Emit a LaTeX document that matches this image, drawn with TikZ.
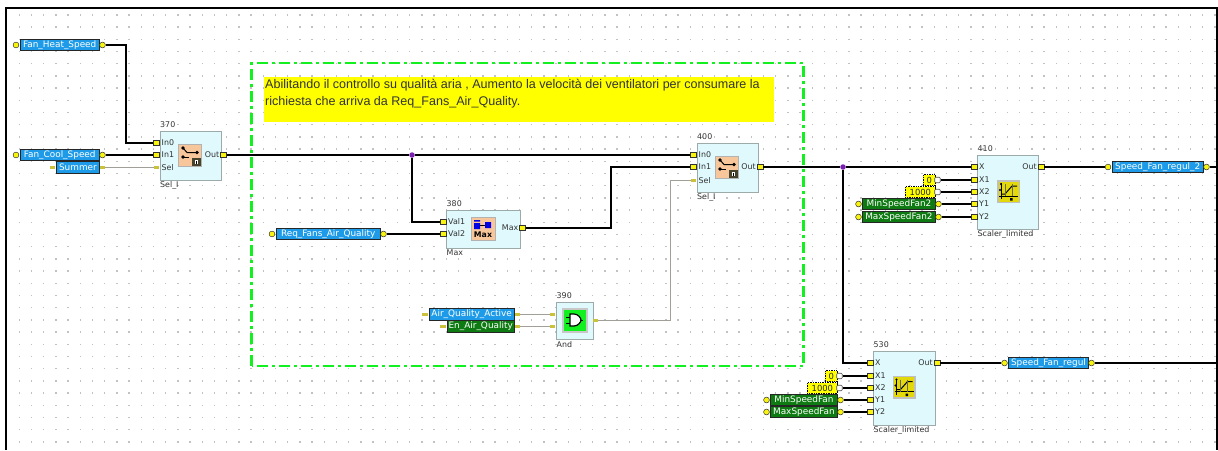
\documentclass[tikz,border=0pt]{standalone}
\usepackage{fontspec}
\setmainfont{DejaVu Sans}
\newfontfamily\notefont{Liberation Sans}
\definecolor{tagblue}{HTML}{1E9BE8}
\definecolor{taggreen}{HTML}{0E7A12}
\definecolor{blockfill}{HTML}{DFF9FD}
\definecolor{blockedge}{HTML}{9DAAAA}
\definecolor{pinyellow}{HTML}{F8F410}
\definecolor{pindim}{HTML}{C9C23A}
\definecolor{wiregray}{HTML}{A0A098}
\definecolor{iconorange}{HTML}{F7C79B}
\definecolor{iconyellow}{HTML}{E3D80A}
\definecolor{junction}{HTML}{7A1FB0}
\definecolor{framegreen}{HTML}{12F020}
\definecolor{noteyellow}{RGB}{255,255,0}
\tikzset{
  sigbox/.style={draw=black!85,line width=.9pt,text=white,inner sep=0pt,minimum height=11.6pt,font=\fontsize{8.9}{9}\selectfont,anchor=west},
  bluebox/.style={sigbox,fill=tagblue},
  greenbox/.style={sigbox,fill=taggreen},
  pincirc/.style={circle,draw=black!80,line width=.5pt,fill=pinyellow,inner sep=0pt,minimum size=5.8pt},
  pindimr/.style={rectangle,draw=none,fill=pindim,inner sep=0pt,minimum width=5.5pt,minimum height=3.4pt},
  pinsq/.style={rectangle,draw=black!80,line width=.5pt,fill=pinyellow,inner sep=0pt,minimum width=5.6pt,minimum height=5pt},
  pinwhite/.style={rectangle,rounded corners=1pt,draw=black!70,line width=.6pt,fill=white,inner sep=0pt,minimum width=5.5pt,minimum height=5.5pt},
  blockbox/.style={rectangle,draw=blockedge,line width=1pt,fill=blockfill,inner sep=0pt,anchor=north west},
  smalltxt/.style={text=black!80,inner sep=0pt,font=\fontsize{7.9}{8}\selectfont},
  wire/.style={draw=black,line width=2pt},
  thinwire/.style={draw=wiregray,line width=1pt},
  constbox/.style={rectangle,densely dotted,draw=black,line width=.7pt,fill=noteyellow,text=black!85,inner sep=0pt,font=\fontsize{8.4}{9}\selectfont,minimum height=11pt,anchor=west},
  dotjoin/.style={circle,fill=junction,draw=none,inner sep=0pt,minimum size=5.5pt},
  zone/.style={draw=framegreen,line width=2.2pt,dash pattern=on 11pt off 4pt on 3pt off 4pt},
  iconedge/.style={draw=black!30,line width=.8pt},
}
% name, box style, pin style, x1, x2, yc, text
\newcommand{\sigtag}[7]{%
  \node[#2,minimum width={(#5-#4)*1pt}] (#1) at (#4,#6) {#7};
  \node[#3] (#1-l) at ({#4-3.5},#6) {};
  \node[#3] (#1-r) at ({#5+3.5},#6) {};
}
% name, x1, x2, y1, y2, number, type
\newcommand{\fblock}[7]{%
  \node[blockbox,minimum width={(#3-#2)*1pt},minimum height={(#5-#4)*1pt}] (#1) at (#2,#4) {};
  \node[smalltxt,anchor=west] (#1-num) at ({#2+.5},{#4-6}) {#6};
  \node[smalltxt,anchor=west] (#1-typ) at ({#2+.5},{#5+5.5}) {#7};
}
% name, pin style, x, y, label
\newcommand{\pinlab}[5]{%
  \node[#2] (#1) at (#3,#4) {};
  \node[smalltxt,anchor=west] (#1-txt) at ({#3+5},#4) {#5};
}
\newcommand{\pinout}[5]{%
  \node[#2] (#1) at (#3,#4) {};
  \node[smalltxt,anchor=east] (#1-txt) at ({#3-4},#4) {#5};
}
% icons: top-left x,y
\newcommand{\switchicon}[2]{%
  \begin{scope}[shift={(#1,#2)}]
    \fill[iconorange] (0,0) rectangle (23.5,22);
    \draw[iconedge] (0,0) rectangle (23.5,22);
    \draw[black,line width=1pt] (5,4) -- (9,8.5) -- (19,8.5);
    \draw[black,line width=1pt] (5,13) -- (11,13);
    \fill[black] (5,4) circle (1.8) (19,8.5) circle (1.8) (5,13) circle (1.8);
    \fill[black!65!olive] (14,14) rectangle (23,22);
    \fill[white] (17,16) rectangle (20,20);
    \fill[black] (18,16.5) rectangle (19,19.5);
  \end{scope}}
\newcommand{\scalericon}[2]{%
  \begin{scope}[shift={(#1,#2)}]
    \fill[black!25] (0,0) rectangle (23,23);
    \fill[iconyellow] (1.5,1.5) rectangle (21.5,21.5);
    \draw[black,line width=.7pt] (4,3) -- (4,19);
    \draw[black,line width=.7pt] (2,16) -- (21,16);
    \draw[black,line width=1pt] (4,14) -- (8,14) -- (15,6) -- (20,6);
    \draw[black!60,line width=.4pt] (8,4) -- (8,16) (15,4) -- (15,16);
    \fill[black] (4,4) circle (1.1) (3,10) circle (1.1) (13,18) rectangle (15.5,20.5);
  \end{scope}}
\begin{document}
\begin{tikzpicture}[x=1pt,y=-1pt]
\useasboundingbox (0,0) rectangle (1218,450);
\fill[white] (0,0) rectangle (1218,450);
% grid dots
\foreach \i in {0,...,98} \foreach \j in {0,...,35}
  \fill[black!24] ({19.3+12.2*\i-.7},{14.8+12.2*\j-.7}) rectangle ++(1.4,1.4);
% outer frame
\draw[black,line width=2pt] (6,450) -- (6,8) -- (1217,8) -- (1217,450);
% note
\fill[noteyellow] (264,77) rectangle (773.5,122);
\node[anchor=north west,inner sep=0pt,align=left,text=black!80,font=\notefont\fontsize{12.55}{16.7}\selectfont] (note) at (265,79.5)
  {Abilitando il controllo su qualità aria , Aumento la velocità dei ventilatori per consumare la\\richiesta che arriva da Req\_Fans\_Air\_Quality.};
% blocks
\fblock{b370}{159.5}{221}{131}{180}{370}{Sel\_I}
\fblock{b400}{696.5}{757.5}{143}{192}{400}{Sel\_I}
\fblock{b380}{446}{520}{210}{247.5}{380}{Max}
\fblock{b390}{556}{592.5}{302}{339}{390}{And}
\fblock{b410}{977}{1038}{155}{228.5}{410}{Scaler\_limited}
\fblock{b530}{873}{935}{351}{425}{530}{Scaler\_limited}
% icons
\switchicon{178}{144}
\switchicon{715}{156}
\scalericon{997}{180}
\scalericon{892.5}{375.5}
% max icon
\fill[iconorange] (471,217) rectangle (495,240);
\draw[iconedge] (471,217) rectangle (495,240);
\fill[blue!90!black] (474,220) rectangle (480,221.5) (474,223) rectangle (480,229) (485,222) rectangle (491,228);
\draw[black,line width=.8pt] (480,225) -- (485,225);
\node[inner sep=0pt,text=black,font=\bfseries\fontsize{7.8}{8}\selectfont] (maxicon) at (483,235) {Max};
% and icon
\fill[black!22] (561.5,307.5) rectangle (587.5,332.5);
\fill[framegreen] (563.5,309.5) rectangle (585.5,330.5);
\draw[black,line width=1pt] (566,317) -- (570,317) (566,323) -- (570,323) (579,320) -- (583,320);
\draw[black,line width=1.2pt,fill=white] (570,314) -- (574,314) .. controls (578,314) and (581,318) .. (581,320) .. controls (581,322) and (578,326) .. (574,326) -- (570,326) -- cycle;
% pins of the blocks
\pinlab{p370a}{pinsq}{156.5}{143}{In0}
\pinlab{p370b}{pinsq}{156.5}{155}{In1}
\pinlab{p370c}{pindimr}{156.5}{167.5}{Sel}
\pinout{p370o}{pinsq}{223.5}{155}{Out}
\pinlab{p400a}{pinsq}{693.5}{155}{In0}
\pinlab{p400b}{pinsq}{693.5}{167}{In1}
\pinlab{p400c}{pindimr}{693.5}{180.5}{Sel}
\pinout{p400o}{pinsq}{760}{167}{Out}
\pinlab{p380a}{pinsq}{443}{222}{Val1}
\pinlab{p380b}{pinsq}{443}{234}{Val2}
\pinout{p380o}{pinsq}{522.5}{228}{Max}
\node[pindimr] (p390a) at (552.5,314.5) {};
\node[pindimr] (p390b) at (552.5,326.5) {};
\node[pindimr] (p390o) at (595.5,320.5) {};
\pinlab{p410x}{pinsq}{974}{167}{X}
\pinlab{p410a}{pinsq}{974}{180}{X1}
\pinlab{p410b}{pinsq}{974}{192}{X2}
\pinlab{p410c}{pinsq}{974}{204}{Y1}
\pinlab{p410d}{pinsq}{974}{217}{Y2}
\pinout{p410o}{pinsq}{1041}{167}{Out}
\pinlab{p530x}{pinsq}{870}{363}{X}
\pinlab{p530a}{pinsq}{870}{376}{X1}
\pinlab{p530b}{pinsq}{870}{388}{X2}
\pinlab{p530c}{pinsq}{870}{400}{Y1}
\pinlab{p530d}{pinsq}{870}{412}{Y2}
\pinout{p530o}{pinsq}{937}{363}{Out}
% signal tags
\sigtag{heat}{bluebox}{pincirc}{19.5}{99}{45}{Fan\_Heat\_Speed}
\sigtag{cool}{bluebox}{pincirc}{19.5}{99}{155}{Fan\_Cool\_Speed}
\sigtag{summer}{bluebox}{pindimr}{56}{99}{167.5}{Summer}
\sigtag{req}{bluebox}{pincirc}{275.5}{380}{234}{Req\_Fans\_Air\_Quality}
\sigtag{active}{bluebox}{pindimr}{428.5}{514}{314.5}{Air\_Quality\_Active}
\sigtag{enair}{greenbox}{pindimr}{446.5}{514}{326.5}{En\_Air\_Quality}
\sigtag{min2}{greenbox}{pincirc}{862}{935}{204}{MinSpeedFan2}
\sigtag{max2}{greenbox}{pincirc}{862}{935}{217}{MaxSpeedFan2}
\sigtag{min1}{greenbox}{pincirc}{770}{837}{400}{MinSpeedFan}
\sigtag{max1}{greenbox}{pincirc}{770}{837}{412}{MaxSpeedFan}
\sigtag{reg2}{bluebox}{pincirc}{1111.5}{1203}{167}{Speed\_Fan\_regul\_2}
\sigtag{reg1}{bluebox}{pincirc}{1008}{1088}{363}{Speed\_Fan\_regul}
% constants
\node[constbox,minimum width=12pt] (c0a) at (923,180) {0};
\node[pinwhite] (c0a-r) at (937.5,180) {};
\node[constbox,minimum width=30pt] (c1a) at (905,192) {1000};
\node[pinwhite] (c1a-r) at (937.5,192) {};
\node[constbox,minimum width=12pt] (c0b) at (825,376) {0};
\node[pinwhite] (c0b-r) at (839.5,376) {};
\node[constbox,minimum width=30pt] (c1b) at (807,388) {1000};
\node[pinwhite] (c1b-r) at (839.5,388) {};
% junctions
\node[dotjoin] (j1) at (412,155) {};
\node[dotjoin] (j2) at (843,167) {};
% routing corners
\coordinate (r1) at (126,45);
\coordinate (r2) at (126,143);
\coordinate (r3) at (412,222);
\coordinate (r4) at (611,228);
\coordinate (r5) at (611,167);
\coordinate (r6) at (670.5,320.5);
\coordinate (r7) at (670.5,180.5);
\coordinate (r8) at (843,363);
\coordinate (e1) at (1217,167);
\coordinate (e2) at (1217,363);
% wires
\draw[wire] (heat-r) -- (r1) -- (r2) -- (p370a);
\draw[wire] (cool-r) -- (p370b);
\draw[thinwire] (summer-r) -- (p370c);
\draw[wire] (p370o) -- (j1);
\draw[wire] (j1) -- (p400a);
\draw[wire] (j1) -- (r3) -- (p380a);
\draw[wire] (req-r) -- (p380b);
\draw[wire] (p380o) -- (r4) -- (r5) -- (p400b);
\draw[thinwire] (active-r) -- (p390a);
\draw[thinwire] (enair-r) -- (p390b);
\draw[thinwire] (p390o) -- (r6) -- (r7) -- (p400c);
\draw[wire] (p400o) -- (j2);
\draw[wire] (j2) -- (p410x);
\draw[wire] (j2) -- (r8) -- (p530x);
\draw[wire] (c0a-r) -- (p410a);
\draw[wire] (c1a-r) -- (p410b);
\draw[wire] (min2-r) -- (p410c);
\draw[wire] (max2-r) -- (p410d);
\draw[wire] (c0b-r) -- (p530a);
\draw[wire] (c1b-r) -- (p530b);
\draw[wire] (min1-r) -- (p530c);
\draw[wire] (max1-r) -- (p530d);
\draw[wire] (p410o) -- (reg2-l);
\draw[wire] (p530o) -- (reg1-l);
\draw[wire] (reg2-r) -- (e1);
\draw[wire] (reg1-r) -- (e2);
% green group frame
\draw[zone] (251.5,366) -- (251.5,63) -- (803.5,63) -- (803.5,366) -- cycle;
\end{tikzpicture}
\end{document}
